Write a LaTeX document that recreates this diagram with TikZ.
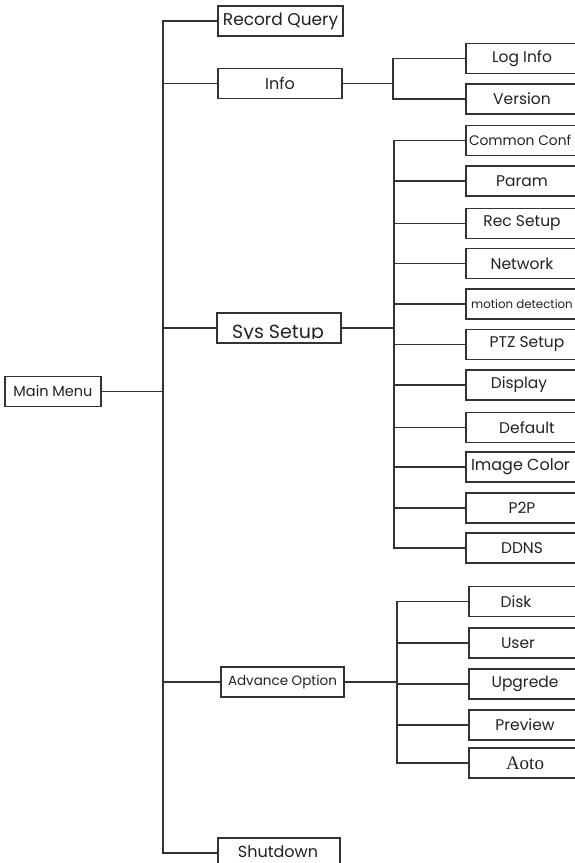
\documentclass[tikz,border=0pt]{standalone}
\usepackage{fontspec}
\setmainfont{Poppins}
\newfontfamily\serifA{Liberation Serif}
\definecolor{ln}{HTML}{333333}
\definecolor{tx}{HTML}{222222}
\newcommand\fsz[1]{\fontsize{#1pt}{#1pt}\selectfont}
\begin{document}
\begin{tikzpicture}[x=1pt,y=-1pt,
  bx/.style={draw=ln, line width=1.6pt, inner sep=0pt, minimum height=30pt, text=tx, font=\fsz{15.5}},
  lf/.style={bx, minimum width=112pt},
  mid/.style={bx, minimum width=124pt},
  conn/.style={draw=ln, line width=1.6pt, line join=miter}]
\useasboundingbox (0,0) rectangle (575,863);
\clip (0,0) rectangle (575,863);
\fill[white] (0,0) rectangle (575,863);
% trunk coordinates
\coordinate (t0) at (163,0);
\coordinate (t1) at (393,0);
\coordinate (t2) at (394,0);
\coordinate (t3) at (397,0);
% main menu
\node[bx, minimum width=96pt, font=\fsz{14.5}] (mm) at (53,391.5) {Main Menu};
% level 1
\node[mid, minimum width=125pt, font=\fsz{17}] (rq) at (280.5,21) {Record Query};
\node[mid, font=\fsz{16}] (info) at (280,83.5) {Info};
\node[mid] (sys) at (279,328) {};
\begin{scope}
  \clip ([xshift=1pt,yshift=-1pt]sys.north west) rectangle ([xshift=-1pt]sys.east |- 0,338.6);
  \node[anchor=base, inner sep=0pt, text=tx, font=\fsz{19}] (systxt) at (278,338) {Sys Setup};
\end{scope}
\node[mid, minimum width=123pt, font=\fsz{13.5}] (adv) at (282.5,682) {Advance Option};
\node[mid, minimum width=122pt] (sd) at (279,853) {};
\node[inner sep=0pt, anchor=base, text=tx, font=\fsz{16}] (sdtxt) at (278,857.5) {Shutdown};
% info leaves
\node[lf] (li) at (522,58.5) {Log Info};
\node[lf] (ver) at (522,99) {Version};
% sys leaves
\node[lf, font=\fsz{13.8}] (cc) at (522,140.5) {\makebox[106pt][l]{Common Conf}};
\node[lf] (par) at (522,181) {Param};
\node[lf] (rec) at (522,223.5) {Rec Setup};
\node[lf] (net) at (522,263.5) {Network};
\node[lf, font=\fsz{11.8}] (mot) at (522,304) {motion detection};
\node[lf] (ptz) at (522,344.5) {\hspace*{10pt}PTZ Setup};
\node[lf] (dis) at (522,385) {Display\hspace*{6pt}};
\node[lf] (def) at (522,427.5) {\hspace*{10pt}Default};
\node[lf, font=\fsz{16}] (ic) at (522,467) {\makebox[106pt][l]{\hspace*{2pt}Image Color}};
\node[lf] (p2p) at (522,508) {P2P};
\node[lf] (ddns) at (522,548) {DDNS};
% advance leaves
\node[lf] (disk) at (525,601.5) {Disk\hspace*{18pt}};
\node[lf] (user) at (525,643) {User\hspace*{14pt}};
\node[lf] (upg) at (525,684) {Upgrede};
\node[lf] (prev) at (525,725) {Preview};
\node[lf, font=\serifA\fsz{19}] (aoto) at (525,763) {Aoto};
% connectors: main trunk
\draw[conn] (rq.west) -| (t0 |- sd.west) -- (sd.west);
\foreach \n in {info,sys,adv} \draw[conn] (t0 |- \n.west) -- (\n.west);
\draw[conn] (mm.east) -- (mm.east -| t0);
% info subtree
\draw[conn] (info.east) -- (info.east -| t1);
\draw[conn] (li.west) -| (t1 |- ver.west) -- (ver.west);
% sys subtree
\draw[conn] (sys.east) -- (sys.east -| t2);
\draw[conn] (cc.west) -| (t2 |- ddns.west) -- (ddns.west);
\foreach \n in {par,rec,net,mot,ptz,dis,def,ic,p2p} \draw[conn] (t2 |- \n.west) -- (\n.west);
% advance subtree
\draw[conn] (adv.east) -- (adv.east -| t3);
\draw[conn] (disk.west) -| (t3 |- aoto.west) -- (aoto.west);
\foreach \n in {user,upg,prev} \draw[conn] (t3 |- \n.west) -- (\n.west);
\end{tikzpicture}
\end{document}
